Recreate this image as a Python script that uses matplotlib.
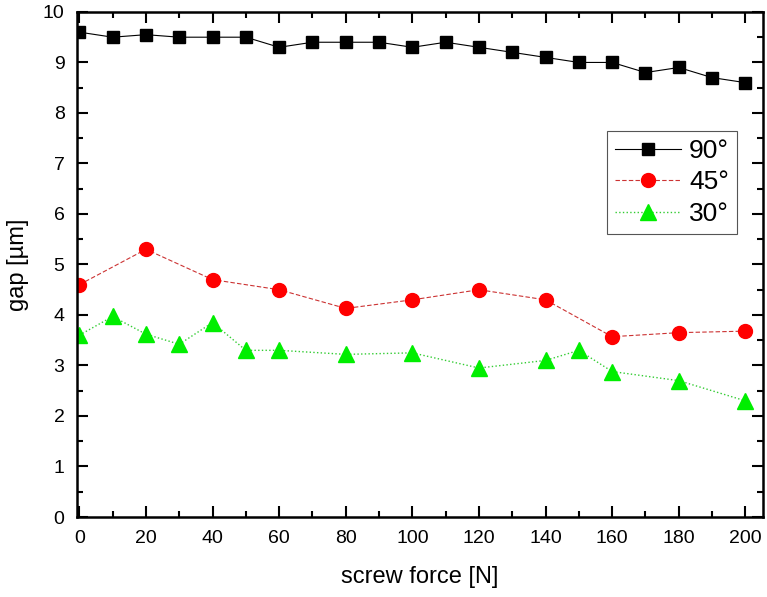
import matplotlib
matplotlib.use('Agg')
import matplotlib.pyplot as plt
from matplotlib.ticker import MultipleLocator

plt.rcParams['font.family'] = ['Liberation Sans', 'DejaVu Sans']

# 90 degree series
x90 = [0, 10, 20, 30, 40, 50, 60, 70, 80, 90, 100, 110, 120, 130, 140, 150, 160, 170, 180, 190, 200]
y90 = [9.6, 9.5, 9.55, 9.5, 9.5, 9.5, 9.3, 9.4, 9.4, 9.4, 9.3, 9.4, 9.3, 9.2, 9.1, 9.0, 9.0, 8.8, 8.9, 8.7, 8.6]

# 45 degree series
x45 = [0, 20, 40, 60, 80, 100, 120, 140, 160, 180, 200]
y45 = [4.6, 5.3, 4.7, 4.5, 4.13, 4.3, 4.5, 4.3, 3.57, 3.65, 3.68]

# 30 degree series
x30 = [0, 10, 20, 30, 40, 50, 60, 80, 100, 120, 140, 150, 160, 180, 200]
y30 = [3.6, 3.97, 3.62, 3.42, 3.85, 3.3, 3.3, 3.22, 3.25, 2.95, 3.1, 3.3, 2.88, 2.7, 2.3]

fig, ax = plt.subplots(figsize=(7.67, 5.97), dpi=100)

ax.plot(x90, y90, color='black', linestyle='-', linewidth=0.8,
        marker='s', markersize=9, markerfacecolor='black', markeredgecolor='black', label='90°')
ax.plot(x45, y45, color='#cc3333', linestyle='--', linewidth=0.8, dashes=(4, 2),
        marker='o', markersize=10, markerfacecolor='red', markeredgecolor='red', label='45°')
ax.plot(x30, y30, color='#33cc33', linestyle=':', linewidth=1.0,
        marker='^', markersize=11, markerfacecolor='#00ee00', markeredgecolor='#00ee00', label='30°')

ax.set_xlim(-0.7, 205.3)
ax.set_ylim(0, 10)
ax.xaxis.set_major_locator(MultipleLocator(20))
ax.xaxis.set_minor_locator(MultipleLocator(10))
ax.yaxis.set_major_locator(MultipleLocator(1))
ax.yaxis.set_minor_locator(MultipleLocator(0.5))
ax.tick_params(which='both', direction='in', top=True, right=True, labelsize=14, width=1.5)
ax.tick_params(which='major', length=8)
ax.tick_params(which='minor', length=4)
ax.tick_params(axis='x', which='major', pad=9)
ax.tick_params(axis='y', which='major', pad=9)
for s in ax.spines.values():
    s.set_linewidth(1.8)

ax.set_xlabel('screw force [N]', fontsize=17, labelpad=14)
ax.set_ylabel('gap [µm]', fontsize=17, labelpad=10)

leg = ax.legend(loc='upper right', bbox_to_anchor=(0.962, 0.764), fontsize=19,
                fancybox=False, framealpha=1, edgecolor='#555555', borderaxespad=0,
                handlelength=2.5, handletextpad=0.3, borderpad=0.3, labelspacing=0.28)
leg.get_frame().set_linewidth(0.8)

plt.subplots_adjust(left=0.1004, right=0.9948, top=0.98, bottom=0.134)
plt.savefig('out.png', dpi=100)
